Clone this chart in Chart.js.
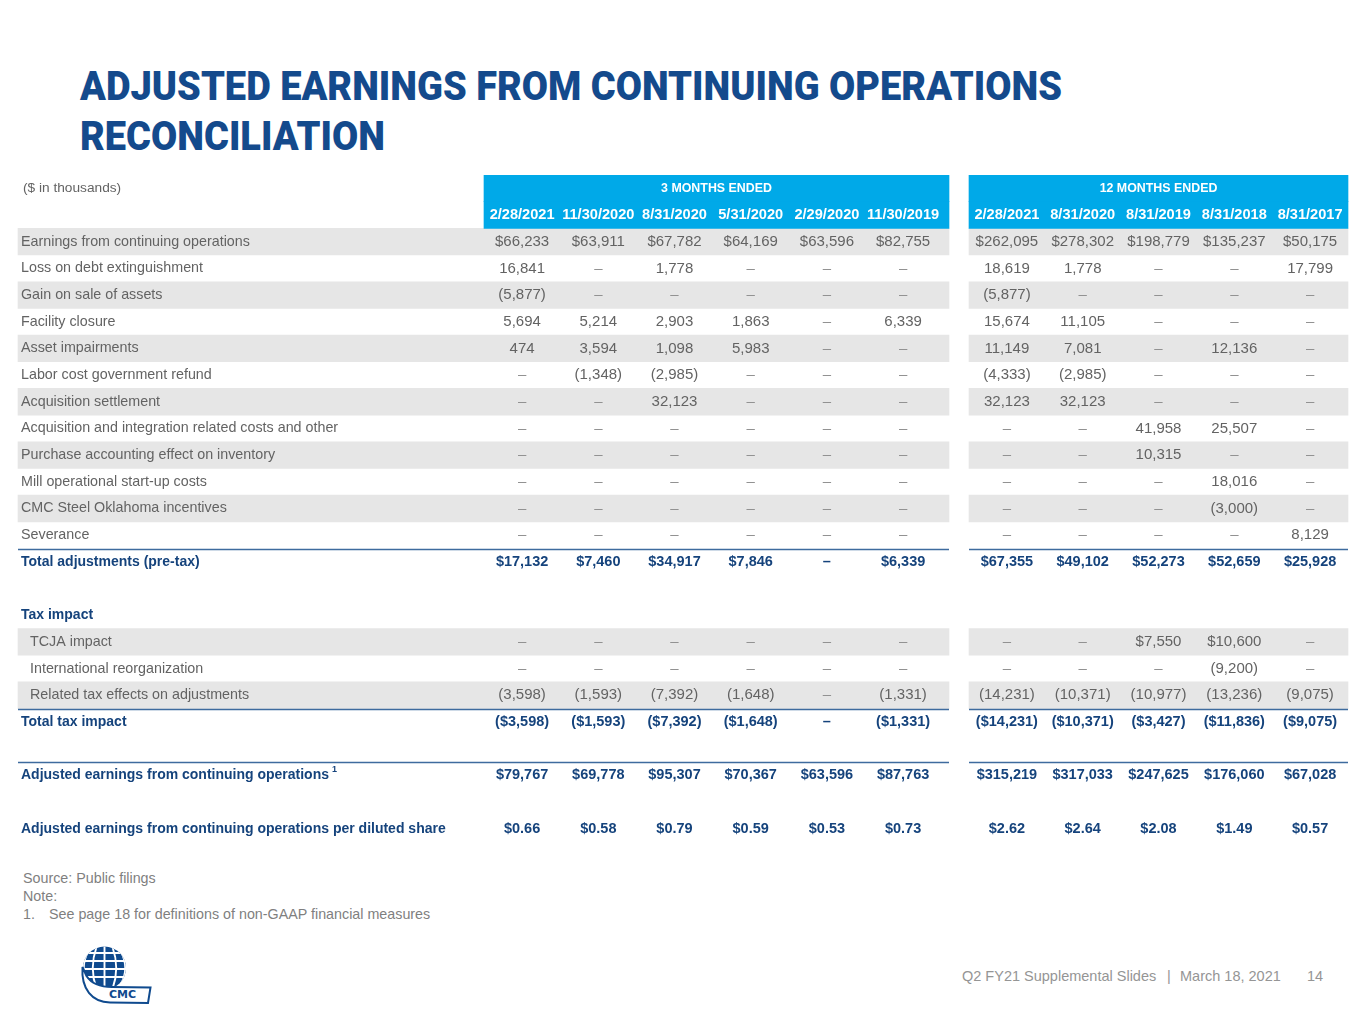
<!DOCTYPE html>
<html><head><meta charset="utf-8">
<script src="https://cdn.jsdelivr.net/npm/chart.js@4.4.1/dist/chart.umd.min.js"></script>
<style>
html,body{margin:0;padding:0;background:#fff;}
body{width:1365px;height:1024px;position:relative;overflow:hidden;font-family:"Liberation Sans",Arial,sans-serif;}
#title{position:absolute;left:80px;top:61px;color:#144a8c;font-family:"Roboto","Liberation Sans",sans-serif;font-weight:900;font-size:41px;line-height:50px;white-space:nowrap;}
#title div{transform-origin:0 0;display:inline-block;}
#wrap{position:absolute;left:0;top:175px;width:1365px;height:667px;}
.note{position:absolute;color:#7f7f7f;font-size:14.3px;line-height:17px;white-space:nowrap;}
.foot{position:absolute;top:968px;color:#959595;font-size:14.5px;line-height:17px;white-space:nowrap;}
#logo{position:absolute;left:78px;top:942px;}
</style>
</head><body>
<div id="title"><div id="t1">ADJUSTED EARNINGS FROM CONTINUING OPERATIONS</div><br><div id="t2">RECONCILIATION</div></div>
<div id="wrap"><canvas id="c" width="1365" height="667"></canvas></div>
<div class="note" style="left:23px;top:870px;">Source: Public filings</div>
<div class="note" style="left:23px;top:888px;">Note:</div>
<div class="note" style="left:23px;top:906px;">1.</div>
<div class="note" style="left:49px;top:906px;">See page 18 for definitions of non-GAAP financial measures</div>
<div class="foot" style="left:962px;">Q2 FY21 Supplemental Slides</div>
<div class="foot" style="left:1167px;">|</div>
<div class="foot" style="left:1180px;">March 18, 2021</div>
<div class="foot" style="left:1307px;">14</div>
<svg id="logo" width="80" height="66" viewBox="0 0 80 66">
  <defs><clipPath id="gc"><circle cx="26.5" cy="26" r="21.5"/></clipPath></defs>
  <circle cx="26.5" cy="26" r="21.5" fill="#0f4a8e"/>
  <g clip-path="url(#gc)" stroke="#fff" stroke-width="1.9" fill="none">
    <line x1="0" y1="11" x2="54" y2="11"/><line x1="0" y1="19" x2="54" y2="19"/><line x1="0" y1="27" x2="54" y2="27"/><line x1="0" y1="35" x2="54" y2="35"/>
    <path d="M26.5 3 V49"/><path d="M18.5 5 Q11 26 18.5 47"/><path d="M34.5 5 Q42 26 34.5 47"/><path d="M10.5 9 Q1 26 10.5 43"/><path d="M42.5 9 Q52 26 42.5 43"/>
  </g>
  <path d="M4.5 25 C3 47 14 60 32 60.5 L70 61 L72.5 45.5 L34 45 C22 45 13 41 8.5 34 Z" fill="#fff" stroke="#0f4a8e" stroke-width="2"/>
  <text x="44.5" y="56" text-anchor="middle" font-family="DejaVu Sans, Liberation Sans" font-weight="bold" font-size="11" fill="#0f4a8e">CMC</text>
</svg>
<script>
// ---------- DATA ----------
const headerLabel = '($ in thousands)';
const group3mTitle = '3 MONTHS ENDED';
const group12mTitle = '12 MONTHS ENDED';
const dates3m  = ['2/28/2021','11/30/2020','8/31/2020','5/31/2020','2/29/2020','11/30/2019'];
const dates12m = ['2/28/2021','8/31/2020','8/31/2019','8/31/2018','8/31/2017'];

const rowLabels = [
  'Earnings from continuing operations',
  'Loss on debt extinguishment',
  'Gain on sale of assets',
  'Facility closure',
  'Asset impairments',
  'Labor cost government refund',
  'Acquisition settlement',
  'Acquisition and integration related costs and other',
  'Purchase accounting effect on inventory',
  'Mill operational start-up costs',
  'CMC Steel Oklahoma incentives',
  'Severance',
  'Total adjustments (pre-tax)',
  'Tax impact',
  'TCJA impact',
  'International reorganization',
  'Related tax effects on adjustments',
  'Total tax impact',
  'Adjusted earnings from continuing operations',
  'Adjusted earnings from continuing operations per diluted share'
];

const earnings3m   = [66233, 63911, 67782, 64169, 63596, 82755];
const earnings12m  = [262095, 278302, 198779, 135237, 50175];
const lossDebt3m   = [16841, null, 1778, null, null, null];
const lossDebt12m  = [18619, 1778, null, null, 17799];
const gainSale3m   = [-5877, null, null, null, null, null];
const gainSale12m  = [-5877, null, null, null, null];
const facility3m   = [5694, 5214, 2903, 1863, null, 6339];
const facility12m  = [15674, 11105, null, null, null];
const impair3m     = [474, 3594, 1098, 5983, null, null];
const impair12m    = [11149, 7081, null, 12136, null];
const labor3m      = [null, -1348, -2985, null, null, null];
const labor12m     = [-4333, -2985, null, null, null];
const acqSettle3m  = [null, null, 32123, null, null, null];
const acqSettle12m = [32123, 32123, null, null, null];
const acqInteg3m   = [null, null, null, null, null, null];
const acqInteg12m  = [null, null, 41958, 25507, null];
const purchase3m   = [null, null, null, null, null, null];
const purchase12m  = [null, null, 10315, null, null];
const mill3m       = [null, null, null, null, null, null];
const mill12m      = [null, null, null, 18016, null];
const oklahoma3m   = [null, null, null, null, null, null];
const oklahoma12m  = [null, null, null, -3000, null];
const severance3m  = [null, null, null, null, null, null];
const severance12m = [null, null, null, null, 8129];
const totalAdj3m   = [17132, 7460, 34917, 7846, null, 6339];
const totalAdj12m  = [67355, 49102, 52273, 52659, 25928];
const tcja3m       = [null, null, null, null, null, null];
const tcja12m      = [null, null, 7550, 10600, null];
const intl3m       = [null, null, null, null, null, null];
const intl12m      = [null, null, null, -9200, null];
const relTax3m     = [-3598, -1593, -7392, -1648, null, -1331];
const relTax12m    = [-14231, -10371, -10977, -13236, -9075];
const totalTax3m   = [-3598, -1593, -7392, -1648, null, -1331];
const totalTax12m  = [-14231, -10371, -3427, -11836, -9075];
const adjEarn3m    = [79767, 69778, 95307, 70367, 63596, 87763];
const adjEarn12m   = [315219, 317033, 247625, 176060, 67028];
const perShare3m   = [0.66, 0.58, 0.79, 0.59, 0.53, 0.73];
const perShare12m  = [2.62, 2.64, 2.08, 1.49, 0.57];

// ---------- TABLE STRUCTURE (built from the arrays) ----------
const rows = [
  {kind:'head1'},
  {kind:'head2'},
  {label:rowLabels[0],  v3:earnings3m,  v12:earnings12m,  cur:true, shade:true},
  {label:rowLabels[1],  v3:lossDebt3m,  v12:lossDebt12m},
  {label:rowLabels[2],  v3:gainSale3m,  v12:gainSale12m,  shade:true},
  {label:rowLabels[3],  v3:facility3m,  v12:facility12m},
  {label:rowLabels[4],  v3:impair3m,    v12:impair12m,    shade:true},
  {label:rowLabels[5],  v3:labor3m,     v12:labor12m},
  {label:rowLabels[6],  v3:acqSettle3m, v12:acqSettle12m, shade:true},
  {label:rowLabels[7],  v3:acqInteg3m,  v12:acqInteg12m},
  {label:rowLabels[8],  v3:purchase3m,  v12:purchase12m,  shade:true},
  {label:rowLabels[9],  v3:mill3m,      v12:mill12m},
  {label:rowLabels[10], v3:oklahoma3m,  v12:oklahoma12m,  shade:true},
  {label:rowLabels[11], v3:severance3m, v12:severance12m, lineBelow:true},
  {label:rowLabels[12], v3:totalAdj3m,  v12:totalAdj12m,  cur:true, bold:true},
  {kind:'blank'},
  {label:rowLabels[13], bold:true},
  {label:rowLabels[14], v3:tcja3m,      v12:tcja12m,      cur:true, shade:true, indent:true},
  {label:rowLabels[15], v3:intl3m,      v12:intl12m,      indent:true},
  {label:rowLabels[16], v3:relTax3m,    v12:relTax12m,    shade:true, indent:true, lineBelow:true},
  {label:rowLabels[17], v3:totalTax3m,  v12:totalTax12m,  cur:true, bold:true},
  {kind:'blank', lineBelow:true},
  {label:rowLabels[18], v3:adjEarn3m,   v12:adjEarn12m,   cur:true, bold:true, sup:'1'},
  {kind:'blank'},
  {label:rowLabels[19], v3:perShare3m,  v12:perShare12m,  cur:true, bold:true, dec:2}
];

// ---------- LAYOUT / STYLE ----------
const L = {tableLeft:18, labelX:21, indentX:30, m3Left:484, m3Right:949, m3ColW:76.2, m12Left:969, m12Right:1348, m12ColW:75.8};
const C = {blue:'#00a9e8', band:'#e6e6e6', text:'#636363', dash:'#929292', bold:'#15437c', line:'#3e6b9e', white:'#ffffff'};
const FONT = '"Liberation Sans", Arial, sans-serif';

function fmt(v, cur, dec){
  if (v === null || v === undefined) return '\u2013';
  const s = Math.abs(v).toLocaleString('en-US', {minimumFractionDigits:dec||0, maximumFractionDigits:dec||0});
  const t = (cur ? '$' : '') + s;
  return v < 0 ? '(' + t + ')' : t;
}

const rowKeys = rows.map((r,i) => 'r' + i);
const isHead = r => r.kind === 'head1' || r.kind === 'head2';
const ds = (fn, color) => ({data: rows.map(fn), backgroundColor: color, borderWidth:0, grouped:false, barPercentage:1, categoryPercentage:1});

const tablePlugin = {
  id:'tableCells',
  afterDatasetsDraw(chart){
    const {ctx, scales:{x, y}} = chart;
    const c3 = i => x.getPixelForValue(L.m3Left + (i + 0.5) * L.m3ColW);
    const c12 = i => x.getPixelForValue(L.m12Left + (i + 0.5) * L.m12ColW);
    const half = (y.getPixelForValue(1) - y.getPixelForValue(0)) / 2;
    ctx.save();
    ctx.textBaseline = 'middle';
    // separator lines
    ctx.strokeStyle = C.line; ctx.lineWidth = 1.5;
    rows.forEach((r, i) => {
      if (!r.lineBelow) return;
      const yy = Math.round(y.getPixelForValue(i) + half) + 0.5;
      ctx.beginPath();
      ctx.moveTo(x.getPixelForValue(L.tableLeft), yy); ctx.lineTo(x.getPixelForValue(L.m3Right), yy);
      ctx.moveTo(x.getPixelForValue(L.m12Left), yy); ctx.lineTo(x.getPixelForValue(L.m12Right), yy);
      ctx.stroke();
    });
    rows.forEach((r, i) => {
      const cy = y.getPixelForValue(i);
      if (r.kind === 'head1') {
        ctx.font = '13.7px ' + FONT; ctx.fillStyle = C.text; ctx.textAlign = 'left';
        ctx.fillText(headerLabel, x.getPixelForValue(23), cy);
        ctx.font = 'bold 12.4px ' + FONT; ctx.fillStyle = C.white; ctx.textAlign = 'center';
        ctx.fillText(group3mTitle, x.getPixelForValue((L.m3Left + L.m3Right) / 2), cy);
        ctx.fillText(group12mTitle, x.getPixelForValue((L.m12Left + L.m12Right) / 2), cy);
        return;
      }
      if (r.kind === 'head2') {
        ctx.font = 'bold 14.6px ' + FONT; ctx.fillStyle = C.white; ctx.textAlign = 'center';
        dates3m.forEach((d, j) => ctx.fillText(d, c3(j), cy));
        dates12m.forEach((d, j) => ctx.fillText(d, c12(j), cy));
        return;
      }
      if (r.kind === 'blank') return;
      // label
      ctx.textAlign = 'left';
      ctx.font = (r.bold ? 'bold 14px ' : '14.3px ') + FONT;
      ctx.fillStyle = r.bold ? C.bold : C.text;
      const lx = x.getPixelForValue(r.indent ? L.indentX : L.labelX);
      ctx.fillText(r.label, lx, cy);
      if (r.sup) {
        const w = ctx.measureText(r.label).width;
        ctx.font = 'bold 9px ' + FONT;
        ctx.fillText(r.sup, lx + w + 3, cy - 6);
      }
      if (!r.v3) return;
      ctx.textAlign = 'center';
      const draw = (v, px) => {
        const txt = fmt(v, r.cur, r.dec);
        if (r.bold) { ctx.font = 'bold 14.5px ' + FONT; ctx.fillStyle = C.bold; }
        else { ctx.font = '15px ' + FONT; ctx.fillStyle = (v === null ? C.dash : C.text); }
        ctx.fillText(txt, px, cy);
      };
      r.v3.forEach((v, j) => draw(v, c3(j)));
      r.v12.forEach((v, j) => draw(v, c12(j)));
    });
    ctx.restore();
  }
};

new Chart(document.getElementById('c'), {
  type:'bar',
  data:{
    labels: rowKeys,
    datasets:[
      ds(r => isHead(r) ? [L.m3Left, L.m3Right] : null, C.blue),
      ds(r => isHead(r) ? [L.m12Left, L.m12Right] : null, C.blue),
      ds(r => r.shade ? [L.tableLeft, L.m3Right] : null, C.band),
      ds(r => r.shade ? [L.m12Left, L.m12Right] : null, C.band)
    ]
  },
  options:{
    indexAxis:'y',
    responsive:false,
    animation:false,
    layout:{padding:0},
    plugins:{legend:{display:false}, tooltip:{enabled:false}, title:{display:false}},
    scales:{
      x:{type:'linear', min:0, max:1365, display:false},
      y:{type:'category', offset:true, display:false}
    }
  },
  plugins:[tablePlugin]
});

// fit title width
(function(){
  const t1 = document.getElementById('t1'), t2 = document.getElementById('t2');
  const s = 982 / t1.getBoundingClientRect().width;
  t1.style.transform = 'scaleX(' + s + ')';
  t2.style.transform = 'scaleX(' + s + ')';
})();
</script>
</body></html>
